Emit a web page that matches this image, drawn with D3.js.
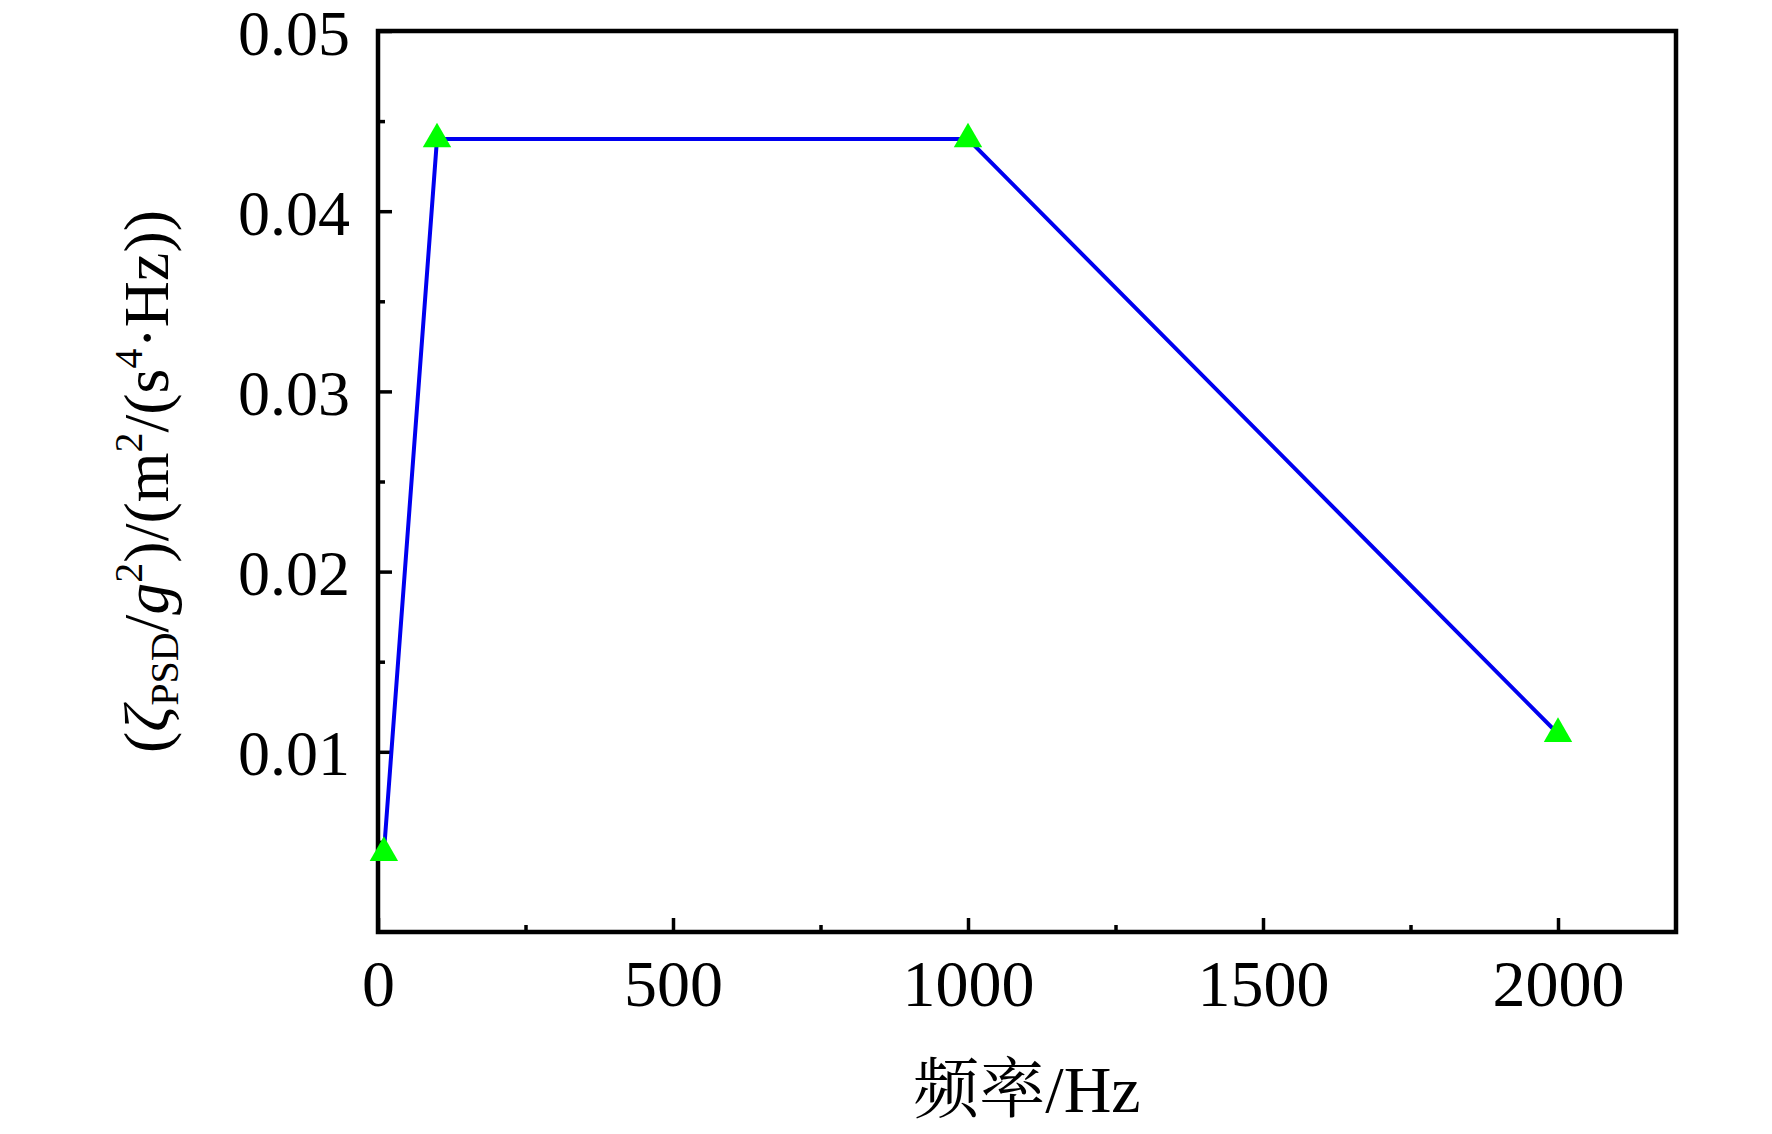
<!DOCTYPE html>
<html>
<head>
<meta charset="utf-8">
<script src="https://cdn.jsdelivr.net/npm/d3@7"></script>
<style>
  html, body { margin: 0; padding: 0; background: #fff; }
  svg { display: block; }
  text { font-family: "Liberation Serif", "Times New Roman", serif; fill: #000; }
</style>
</head>
<body>
<svg id="chart" width="1772" height="1134"></svg>
<script>
// ---- data ----
const frequencies = [10, 100, 1000, 2000];
const psdValues = [0.0044, 0.044, 0.044, 0.011];
const xMajorTicks = [0, 500, 1000, 1500, 2000];
const xMinorTicks = [250, 750, 1250, 1750];
const yMajorTicks = [0.01, 0.02, 0.03, 0.04, 0.05];
const yMinorTicks = [0.005, 0.015, 0.025, 0.035, 0.045];
const xTitle = "频率/Hz";

(function () {
// ---- layout ----
const svg = d3.select("#chart");
const pLeft = 378, pRight = 1676, pTop = 31, pBottom = 932;
const x = d3.scaleLinear().domain([0, 2200]).range([pLeft, pRight]);
const y = d3.scaleLinear().domain([0, 0.05]).range([pBottom, pTop]);

// x axis (ticks inside)
const gx = svg.append("g").attr("transform", `translate(0,${pBottom})`);
gx.call(d3.axisBottom(x).tickValues(xMajorTicks).tickSize(-14).tickPadding(0).tickFormat(d3.format("d")));
gx.call(g => g.select(".domain").remove());
gx.selectAll(".tick line").attr("stroke", "#000").attr("stroke-width", 3.5);
gx.selectAll(".tick text").attr("font-size", 66).attr("y", 74).attr("dy", null)
  .style("font-family", '"Liberation Serif", serif');
const gxm = svg.append("g").attr("transform", `translate(0,${pBottom})`);
gxm.call(d3.axisBottom(x).tickValues(xMinorTicks).tickSize(-7).tickFormat(""));
gxm.call(g => g.select(".domain").remove());
gxm.selectAll(".tick line").attr("stroke", "#000").attr("stroke-width", 3.5);

// y axis (ticks inside)
const gy = svg.append("g").attr("transform", `translate(${pLeft},0)`);
gy.call(d3.axisLeft(y).tickValues(yMajorTicks).tickSize(-14).tickFormat(d3.format(".2f")));
gy.call(g => g.select(".domain").remove());
gy.selectAll(".tick line").attr("stroke", "#000").attr("stroke-width", 3.5);
gy.selectAll(".tick text").attr("font-size", 64).attr("x", -28).attr("dy", "0.36em")
  .style("font-family", '"Liberation Serif", serif');
const gym = svg.append("g").attr("transform", `translate(${pLeft},0)`);
gym.call(d3.axisLeft(y).tickValues(yMinorTicks).tickSize(-7).tickFormat(""));
gym.call(g => g.select(".domain").remove());
gym.selectAll(".tick line").attr("stroke", "#000").attr("stroke-width", 3.5);

// frame
svg.append("rect")
  .attr("x", pLeft).attr("y", pTop)
  .attr("width", pRight - pLeft).attr("height", pBottom - pTop)
  .attr("fill", "none").attr("stroke", "#000").attr("stroke-width", 4.5);

// data line
const pts = frequencies.map((f, i) => [f, psdValues[i]]);
svg.append("path")
  .datum(pts)
  .attr("fill", "none")
  .attr("stroke", "#0000f0")
  .attr("stroke-width", 4)
  .attr("d", d3.line().x(d => x(d[0])).y(d => y(d[1])));

// markers
svg.selectAll("path.marker")
  .data(pts)
  .join("path")
  .attr("class", "marker")
  .attr("transform", d => `translate(${x(d[0])},${y(d[1])})`)
  .attr("d", d3.symbol().type(d3.symbolTriangle).size(350))
  .attr("fill", "#00ff00");

// x title
const xt = svg.append("text")
  .attr("x", (pLeft + pRight) / 2)
  .attr("y", 1112)
  .attr("text-anchor", "middle")
  .attr("font-size", 66);
xt.append("tspan").style("font-family", '"Noto Serif CJK SC", "Noto Sans CJK SC", sans-serif').text("频率");
xt.append("tspan").text("/Hz");

// y title
const yt = svg.append("text")
  .attr("transform", `translate(168,${(pTop + pBottom) / 2}) rotate(-90)`)
  .attr("text-anchor", "middle")
  .attr("font-size", 64);
yt.append("tspan").text("(");
yt.append("tspan").attr("font-style", "italic").text("ζ");
yt.append("tspan").attr("font-size", 40).attr("baseline-shift", "-10").text("PSD");
yt.append("tspan").text("/");
yt.append("tspan").attr("font-style", "italic").text("g");
yt.append("tspan").attr("font-size", 40).attr("baseline-shift", "26").text("2");
yt.append("tspan").text(")/(m");
yt.append("tspan").attr("font-size", 40).attr("baseline-shift", "26").text("2");
yt.append("tspan").text("/(s");
yt.append("tspan").attr("font-size", 40).attr("baseline-shift", "26").text("4");
yt.append("tspan").text("·Hz))");
})();
</script>
</body>
</html>
